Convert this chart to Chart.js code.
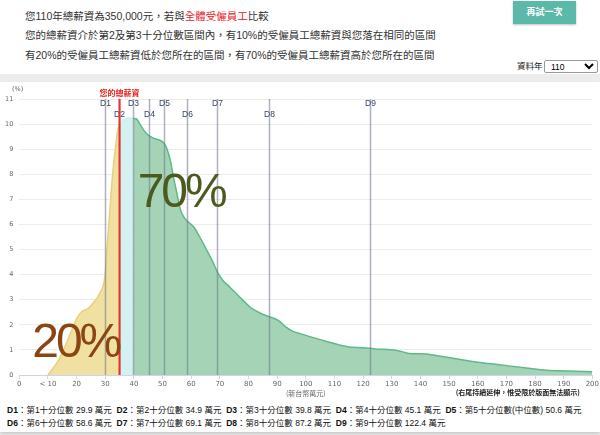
<!DOCTYPE html>
<html>
<head>
<meta charset="utf-8">
<script src="https://cdn.jsdelivr.net/npm/chart.js@4"></script>
<style>
  html, body { margin: 0; padding: 0; }
  body { width: 600px; height: 435px; background: #ececec; font-family: "Liberation Sans", "Noto Sans CJK TC", sans-serif; color: #333; position: relative; overflow: hidden; }
  #head { position: absolute; left: 0; top: 0; width: 600px; height: 74px; background: #fff; }
  .line { position: absolute; left: 25px; font-size: 10.5px; white-space: nowrap; line-height: 14px; }
  .red { color: #e8221e; }
  #retry { position: absolute; left: 513px; top: 1px; width: 63px; height: 23px; background: #5bb9a9; color: #fff; font-size: 9px; font-weight: bold; text-align: center; line-height: 23px; box-shadow: 0 1px 2px rgba(0,0,0,0.25); }
  #yearLbl { position: absolute; left: 517px; top: 60px; font-size: 8.5px; color: #222; line-height: 13px; }
  #year { position: absolute; left: 544px; top: 60px; width: 54px; height: 13px; font-size: 8.5px; padding: 0 0 0 2px; border: 1px solid #999; border-radius: 2px; background: #fff; }
  #card { position: absolute; left: 0; top: 82px; width: 600px; height: 350px; background: #fff; box-shadow: 0 2px 3px rgba(0,0,0,0.15); }
  #wrap { position: absolute; left: 0; top: 0; width: 600px; height: 318px; }
  #foot { position: absolute; left: 7px; top: 322px; font-size: 8.5px; color: #111; white-space: nowrap; line-height: 13px; }
  #foot b { font-family: "Liberation Sans", sans-serif; }
</style>
</head>
<body>
<div id="head">
  <div class="line" style="top:9px">您110年總薪資為350,000元，若與<span class="red">全體受僱員工</span>比較</div>
  <div class="line" style="top:28px">您的總薪資介於第2及第3十分位數區間內，有10%的受僱員工總薪資與您落在相同的區間</div>
  <div class="line" style="top:48px">有20%的受僱員工總薪資低於您所在的區間，有70%的受僱員工總薪資高於您所在的區間</div>
  <div id="retry">再試一次</div>
  <div id="yearLbl">資料年</div>
  <select id="year"><option>110</option></select>
</div>
<div id="card">
  <div id="wrap"><canvas id="chart"></canvas></div>
  <div id="foot">
    <div><b>D1</b>：第1十分位數 29.9 萬元&nbsp; <b>D2</b>：第2十分位數 34.9 萬元&nbsp; <b>D3</b>：第3十分位數 39.8 萬元&nbsp; <b>D4</b>：第4十分位數 45.1 萬元&nbsp; <b>D5</b>：第5十分位數(中位數) 50.6 萬元</div>
    <div><b>D6</b>：第6十分位數 58.6 萬元&nbsp; <b>D7</b>：第7十分位數 69.1 萬元&nbsp; <b>D8</b>：第8十分位數 87.2 萬元&nbsp; <b>D9</b>：第9十分位數 122.4 萬元</div>
  </div>
</div>
<script>
// 薪資分布 (萬元 -> %)
const lowSalary = [10, 12, 14, 16, 18, 20, 22, 24, 26, 28, 29.9, 30.5, 31.5, 32.5, 33.5, 34.3, 35];
const lowShare  = [0, 0.3, 0.65, 1.15, 1.7, 2.25, 2.55, 2.65, 2.9, 3.25, 3.95, 4.9, 6.4, 7.9, 9.0, 9.7, 10.05];

const midSalary = [35, 36, 37, 38, 39, 39.8];
const midShare  = [10.05, 10.15, 10.22, 10.25, 10.25, 10.23];

const highSalary = [39.8, 41, 42, 43.5, 45, 47, 49, 50.5, 51.5, 52.7, 53.8, 55, 56.2, 57.5, 59, 61, 63, 65.3, 67.5, 69.4, 71, 73.5, 77, 80.5, 84, 87.5, 90.5, 93, 95.5, 98, 105, 112, 115, 120, 125, 130, 133, 136, 142, 146.5, 153.5, 160, 167.5, 177, 184, 191, 200];
const highShare  = [10.23, 10.2, 10.02, 9.75, 9.56, 9.43, 9.36, 9.24, 9.03, 8.56, 7.9, 7.24, 6.6, 6.28, 6.1, 5.88, 5.5, 5.0, 4.52, 4.05, 3.78, 3.5, 3.1, 2.71, 2.47, 2.31, 2.17, 1.92, 1.74, 1.65, 1.41, 1.19, 1.12, 1.09, 1.03, 1.01, 0.95, 0.86, 0.84, 0.76, 0.63, 0.51, 0.41, 0.28, 0.19, 0.16, 0.13];

const decileNames  = ['D1', 'D2', 'D3', 'D4', 'D5', 'D6', 'D7', 'D8', 'D9'];
const decileValues = [29.9, 34.9, 39.8, 45.1, 50.6, 58.6, 69.1, 87.2, 122.4];
const mySalary = 35;
const shareLabels = [{ text: '20%', x: 19.7, y: 0.7, color: '#8b4513' }, { text: '70%', x: 56.5, y: 6.7, color: '#4b5a1f' }];

const pts = (xs, ys) => xs.map((v, i) => ({ x: v, y: ys[i] }));

const overlay = {
  id: 'overlay',
  afterDatasetsDraw(chart) {
    const { ctx, chartArea: a, scales: { x, y } } = chart;
    ctx.save();
    // 十分位數線
    decileValues.forEach((d, i) => {
      const px = Math.round(x.getPixelForValue(d)) + 0.5;
      ctx.strokeStyle = 'rgba(105,115,140,0.55)';
      ctx.lineWidth = 1.5;
      ctx.beginPath(); ctx.moveTo(px, a.top); ctx.lineTo(px, a.bottom); ctx.stroke();
      ctx.fillStyle = '#3b4668';
      ctx.font = '8.5px "Liberation Sans"';
      ctx.textAlign = 'center'; ctx.textBaseline = 'middle';
      ctx.fillText(decileNames[i], px, a.top + (i % 2 ? 16 : 5));
    });
    // 您的總薪資
    const rx = x.getPixelForValue(mySalary);
    ctx.strokeStyle = '#e8312a'; ctx.lineWidth = 2;
    ctx.beginPath(); ctx.moveTo(rx, a.top); ctx.lineTo(rx, a.bottom); ctx.stroke();
    ctx.fillStyle = '#e8221e';
    ctx.font = 'bold 8px "Noto Sans CJK TC"';
    ctx.fillText('您的總薪資', rx, a.top - 6);
    // 大字
    shareLabels.forEach(s => {
      ctx.fillStyle = s.color;
      ctx.font = '48px "Liberation Sans"';
      ctx.letterSpacing = '-3px';
      ctx.textAlign = 'center'; ctx.textBaseline = 'alphabetic';
      ctx.fillText(s.text, x.getPixelForValue(s.x), y.getPixelForValue(s.y));
    });
    ctx.letterSpacing = '0px';
    // 軸標題
    ctx.fillStyle = '#666'; ctx.font = '6.5px "DejaVu Sans"';
    ctx.textAlign = 'left'; ctx.textBaseline = 'middle';
    ctx.fillText('(%)', 12, a.top - 10);
    ctx.font = '7px "Noto Sans CJK TC"'; ctx.textAlign = 'center';
    ctx.fillText('(新台幣萬元)', (a.left + a.right) / 2, a.bottom + 18);
    ctx.fillStyle = '#222'; ctx.font = 'bold 7px "Noto Sans CJK TC"'; ctx.textAlign = 'right';
    ctx.fillText('(右尾持續延伸，惟受限於版面無法顯示)', 580, a.bottom + 17);
    ctx.restore();
  }
};

new Chart(document.getElementById('chart'), {
  type: 'line',
  data: {
    datasets: [
      { data: pts(lowSalary, lowShare), borderColor: '#ead07c', backgroundColor: '#f0e0a2', borderWidth: 1.5, fill: 'origin' },
      { data: pts(midSalary, midShare), borderColor: '#c8ecec', backgroundColor: '#d3f1f1', borderWidth: 1, fill: 'origin' },
      { data: pts(highSalary, highShare), borderColor: '#5fb98a', backgroundColor: '#a4d4b5', borderWidth: 1.5, fill: 'origin' }
    ]
  },
  options: {
    responsive: true,
    maintainAspectRatio: false,
    animation: false,
    events: [],
    layout: { padding: { top: 17, right: 5, left: 0, bottom: 0 } },
    elements: { point: { radius: 0 }, line: { cubicInterpolationMode: 'monotone' } },
    plugins: { legend: { display: false }, tooltip: { enabled: false } },
    scales: {
      x: {
        type: 'linear', min: 0, max: 200,
        afterFit: s => { s.height = 25; },
        grid: { drawOnChartArea: false, drawTicks: true, tickLength: 4, color: '#ccd6eb' },
        border: { color: '#ccd6eb' },
        ticks: { stepSize: 10, autoSkip: false, maxRotation: 0, padding: 1, color: '#666', font: { family: 'DejaVu Sans', size: 7 },
          callback: v => v === 10 ? '< 10' : v }
      },
      y: {
        min: 0, max: 11,
        afterFit: s => { s.width = 19.3; },
        grid: { color: '#ececec', drawTicks: false },
        border: { display: false },
        ticks: { stepSize: 1, padding: 6, color: '#666', font: { family: 'DejaVu Sans', size: 6.5 } }
      }
    }
  },
  plugins: [overlay]
});
</script>
</body>
</html>
